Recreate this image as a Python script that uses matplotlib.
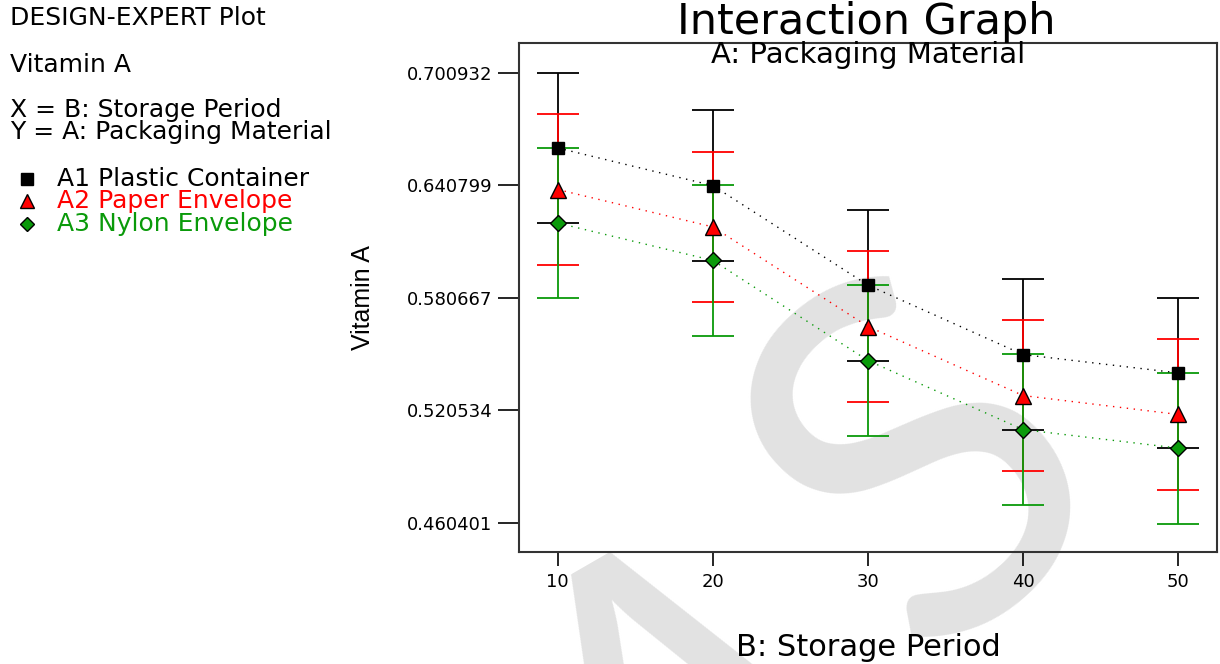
import matplotlib
matplotlib.use("Agg")
import matplotlib.pyplot as plt

plt.rcParams['font.family'] = ['DejaVu Sans']

# data
period = [10, 20, 30, 40, 50]
a1_plastic = [0.6608, 0.6407, 0.5875, 0.5504, 0.5406]
a2_paper = [0.6386, 0.6186, 0.5654, 0.5285, 0.5184]
a3_nylon = [0.6207, 0.6007, 0.5472, 0.5103, 0.5004]
lsd = 0.0403
yticks = [0.460401, 0.520534, 0.580667, 0.640799, 0.700932]

series = [
    ("A1 Plastic Container", a1_plastic, "black", "s", 9),
    ("A2 Paper Envelope", a2_paper, "#ff0000", "^", 11),
    ("A3 Nylon Envelope", a3_nylon, "#0a9a0a", "D", 8),
]

W, H = 1220.0, 664.0
fig = plt.figure(figsize=(12.2, 6.64), dpi=100)
ax = fig.add_axes([519 / W, 1 - 552 / H, 698 / W, 509 / H])
ax.set_facecolor("none")

# light grey watermark behind the plot
fig.text(930 / W, 1 - 472 / H, "S", fontsize=360, color="#e2e2e2", ha="center",
         va="center", rotation=42, zorder=-1, family="Lato")
fig.text(690 / W, 1 - 735 / H, "A", fontsize=330, color="#e2e2e2", ha="center",
         va="center", rotation=30, zorder=-1, family="Lato")

for name, vals, col, mk, ms in series:
    ax.errorbar(period, vals, yerr=lsd, fmt="none", ecolor=col, elinewidth=1.3,
                capsize=15, capthick=1.3, zorder=2)
for name, vals, col, mk, ms in series:
    ax.plot(period, vals, linestyle=(0, (1, 4)), color=col, lw=1, zorder=3)
    ax.plot(period, vals, linestyle="none", marker=mk, markersize=ms,
            markerfacecolor=col, markeredgecolor="black", markeredgewidth=1, zorder=4)

ax.set_xlim(7.5, 52.5)
ax.set_ylim(0.4449, 0.7169)
ax.set_xticks(period)
ax.set_xticklabels([str(p) for p in period], fontsize=13)
ax.set_yticks(yticks)
ax.set_yticklabels(["%.6f" % v for v in yticks], fontsize=13)
ax.tick_params(axis="y", length=15, width=1.2, pad=4)
ax.tick_params(axis="x", length=10, width=1.2, pad=5)
for s in ax.spines.values():
    s.set_color("#333333")
    s.set_linewidth(1.5)

ax.set_ylabel("Vitamin A", fontsize=18, family="Liberation Sans")
ax.yaxis.set_label_coords(-144 / 698, 0.5)
ax.set_xlabel("B: Storage Period", fontsize=22, va="center")
ax.xaxis.set_label_coords(0.5, -96 / 509)
fig.text(866 / W, 1 - 22 / H, "Interaction Graph", fontsize=31, ha="center", va="center")
ax.text(0.5, 1 - 12 / 509, "A: Packaging Material", transform=ax.transAxes, fontsize=21,
        ha="center", va="center")

# side panel text
fig.text(10 / W, 1 - 18 / H, "DESIGN-EXPERT Plot", fontsize=18, va="center")
fig.text(10 / W, 1 - 65 / H, "Vitamin A", fontsize=18, va="center")
fig.text(10 / W, 1 - 110 / H, "X = B: Storage Period", fontsize=18, va="center")
fig.text(10 / W, 1 - 132 / H, "Y = A: Packaging Material", fontsize=18, va="center")
leg_y = [179, 201, 224]
for (name, vals, col, mk, ms), yy in zip(series, leg_y):
    fig.lines.append(plt.Line2D([27 / W], [1 - yy / H], marker=mk, markersize=ms - 1,
                                markerfacecolor=col, markeredgecolor="black",
                                transform=fig.transFigure, figure=fig))
    fig.text(57 / W, 1 - yy / H, name, fontsize=18, color=col, va="center")

fig.savefig("out.png", dpi=100)
